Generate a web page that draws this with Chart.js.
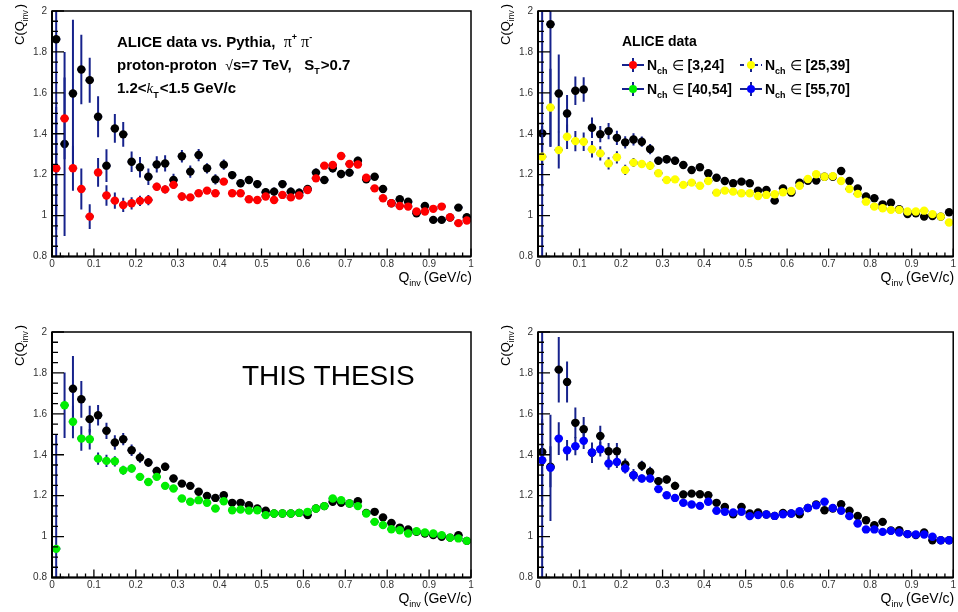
<!DOCTYPE html>
<html><head><meta charset="utf-8">
<script src="https://cdn.jsdelivr.net/npm/chart.js@4.4.1/dist/chart.umd.min.js"></script>
<style>
html,body{margin:0;padding:0;background:#fff;width:958px;height:612px;overflow:hidden}
.pane{position:absolute;width:479px;height:306px}
canvas{display:block}
</style></head><body>
<div class="pane" style="left:0;top:0"><canvas id="c1" width="479" height="306"></canvas></div>
<div class="pane" style="left:479px;top:0"><canvas id="c2" width="479" height="306"></canvas></div>
<div class="pane" style="left:0;top:321px"><canvas id="c3" width="479" height="306"></canvas></div>
<div class="pane" style="left:479px;top:321px"><canvas id="c4" width="479" height="306"></canvas></div>
<script>
// ---------- data ----------
const qInv = [0.01,0.03,0.05,0.07,0.09,0.11,0.13,0.15,0.17,0.19,0.21,0.23,0.25,0.27,0.29,0.31,0.33,0.35,0.37,0.39,0.41,0.43,0.45,0.47,0.49,0.51,0.53,0.55,0.57,0.59,0.61,0.63,0.65,0.67,0.69,0.71,0.73,0.75,0.77,0.79,0.81,0.83,0.85,0.87,0.89,0.91,0.93,0.95,0.97,0.99];
const binHalfWidth = 0.01;
const xTickValues = [0,0.1,0.2,0.3,0.4,0.5,0.6,0.7,0.8,0.9,1];
const yTickValues = [0.8,1,1.2,1.4,1.6,1.8,2];

// Nch in [3,24]
const pythia3to24 = [1.862,1.35,1.597,1.714,1.662,1.483,1.244,1.426,1.397,1.263,1.236,1.19,1.25,1.255,1.174,1.29,1.215,1.296,1.231,1.177,1.249,1.198,1.158,1.174,1.154,1.114,1.117,1.154,1.117,1.112,1.13,1.21,1.174,1.231,1.203,1.21,1.268,1.177,1.19,1.13,1.06,1.08,1.068,1.011,1.047,0.979,0.979,0.99,1.039,0.992];
const pythia3to24Err = [1.2,0.45,0.36,0.17,0.11,0.1,0.08,0.07,0.06,0.05,0.05,0.04,0.04,0.04,0.03,0.03,0.03,0.03,0.025,0.025,0.025,0.02,0.02,0.02,0.02,0.02,0.02,0.02,0.02,0.02,0.02,0.02,0.02,0.02,0.02,0.02,0.02,0.015,0.015,0.015,0.015,0.015,0.015,0.015,0.015,0.015,0.015,0.015,0.015,0.015];
const data3to24 = [1.231,1.475,1.231,1.13,0.995,1.211,1.098,1.073,1.052,1.06,1.072,1.076,1.141,1.128,1.15,1.093,1.089,1.109,1.122,1.109,1.166,1.109,1.109,1.08,1.076,1.093,1.076,1.101,1.089,1.098,1.125,1.182,1.244,1.247,1.291,1.252,1.25,1.185,1.133,1.085,1.06,1.047,1.044,1.02,1.02,1.033,1.044,0.992,0.963,0.976];
const data3to24Err = [0.3,0.2,0.11,0.1,0.06,0.07,0.05,0.04,0.035,0.03,0.025,0.025,0.02,0.02,0.02,0.02,0.015,0.015,0.015,0.015,0.012,0.012,0.012,0.012,0.012,0.012,0.012,0.012,0.012,0.012,0.012,0.012,0.012,0.012,0.012,0.012,0.012,0.012,0.012,0.012,0.012,0.012,0.012,0.012,0.012,0.012,0.012,0.012,0.012,0.012];

// Nch in [25,39]
const pythia25to39 = [1.402,1.935,1.597,1.499,1.61,1.616,1.429,1.398,1.413,1.38,1.358,1.372,1.361,1.325,1.268,1.275,1.268,1.247,1.223,1.236,1.207,1.185,1.169,1.158,1.166,1.158,1.122,1.125,1.073,1.133,1.112,1.161,1.17,1.171,1.19,1.19,1.218,1.169,1.133,1.093,1.085,1.055,1.063,1.031,1.008,1.011,0.995,0.998,0.995,1.016];
const pythia25to39Err = [1.2,0.6,0.19,0.09,0.07,0.06,0.05,0.04,0.04,0.035,0.03,0.03,0.025,0.025,0.02,0.02,0.02,0.018,0.018,0.016,0.015,0.015,0.015,0.015,0.015,0.015,0.015,0.015,0.015,0.015,0.015,0.015,0.015,0.015,0.015,0.015,0.015,0.012,0.012,0.012,0.012,0.012,0.012,0.012,0.012,0.012,0.012,0.012,0.012,0.012];
const data25to39 = [1.288,1.528,1.32,1.385,1.364,1.361,1.324,1.304,1.255,1.285,1.223,1.259,1.252,1.244,1.207,1.174,1.177,1.15,1.161,1.146,1.169,1.112,1.122,1.117,1.109,1.109,1.096,1.101,1.104,1.114,1.12,1.146,1.179,1.202,1.19,1.193,1.169,1.13,1.106,1.068,1.044,1.036,1.028,1.028,1.02,1.02,1.024,1.007,0.995,0.966];
const data25to39Err = [0.15,0.19,0.09,0.06,0.05,0.045,0.04,0.035,0.03,0.03,0.025,0.022,0.02,0.02,0.018,0.016,0.015,0.015,0.012,0.012,0.012,0.012,0.012,0.012,0.01,0.01,0.01,0.01,0.01,0.01,0.01,0.01,0.01,0.01,0.01,0.01,0.01,0.01,0.01,0.01,0.01,0.01,0.01,0.01,0.01,0.01,0.01,0.01,0.01,0.01];

// Nch in [40,54]
const pythia40to54 = [null,null,1.723,1.671,1.574,1.593,1.517,1.46,1.476,1.422,1.386,1.362,1.321,1.341,1.284,1.259,1.248,1.219,1.199,1.189,1.202,1.165,1.165,1.153,1.137,1.126,1.113,1.113,1.113,1.116,1.105,1.137,1.149,1.17,1.165,1.162,1.173,1.116,1.121,1.093,1.067,1.044,1.035,1.023,1.015,1.007,0.999,0.995,1.007,0.979];
const pythia40to54Err = [0,0,0.16,0.09,0.065,0.05,0.04,0.035,0.03,0.028,0.025,0.022,0.02,0.02,0.018,0.016,0.015,0.015,0.012,0.012,0.012,0.012,0.012,0.012,0.01,0.01,0.01,0.01,0.01,0.01,0.01,0.01,0.01,0.01,0.01,0.01,0.01,0.01,0.01,0.01,0.01,0.01,0.01,0.01,0.01,0.01,0.01,0.01,0.01,0.01];
const data40to54 = [0.94,1.642,1.561,1.479,1.476,1.381,1.37,1.368,1.324,1.333,1.292,1.267,1.292,1.248,1.235,1.186,1.17,1.178,1.165,1.137,1.173,1.129,1.132,1.127,1.129,1.105,1.113,1.113,1.113,1.116,1.121,1.137,1.149,1.186,1.178,1.162,1.149,1.113,1.072,1.056,1.036,1.031,1.015,1.026,1.02,1.015,1.007,0.995,0.991,0.979];
const data40to54Err = [0.56,0.16,0.08,0.06,0.05,0.03,0.03,0.025,0.022,0.02,0.018,0.016,0.015,0.012,0.012,0.01,0.01,0.01,0.01,0.01,0.01,0.01,0.01,0.01,0.008,0.008,0.008,0.008,0.008,0.008,0.008,0.008,0.008,0.008,0.008,0.008,0.008,0.008,0.008,0.008,0.008,0.008,0.008,0.008,0.008,0.008,0.008,0.008,0.008,0.008];

// Nch in [55,70]
const pythia55to70 = [1.414,1.341,1.816,1.756,1.556,1.525,1.41,1.492,1.417,1.417,1.352,1.3,1.346,1.316,1.271,1.279,1.248,1.206,1.21,1.207,1.202,1.165,1.145,1.109,1.145,1.113,1.118,1.108,1.101,1.116,1.113,1.109,1.14,1.157,1.129,1.137,1.158,1.126,1.101,1.08,1.056,1.072,1.03,1.031,1.012,1.007,1.02,0.982,0.982,0.982];
const pythia55to70Err = [1.2,0.1,0.16,0.1,0.075,0.06,0.05,0.05,0.04,0.04,0.03,0.03,0.025,0.025,0.02,0.02,0.02,0.018,0.016,0.015,0.015,0.015,0.012,0.012,0.012,0.012,0.012,0.012,0.012,0.012,0.012,0.012,0.012,0.012,0.012,0.012,0.012,0.012,0.012,0.012,0.012,0.012,0.012,0.012,0.012,0.012,0.012,0.012,0.012,0.012];
const data55to70 = [1.373,1.336,1.479,1.422,1.442,1.468,1.411,1.427,1.357,1.365,1.333,1.3,1.284,1.284,1.232,1.202,1.189,1.165,1.157,1.15,1.17,1.126,1.121,1.118,1.121,1.1,1.105,1.108,1.101,1.109,1.113,1.124,1.14,1.153,1.17,1.14,1.126,1.1,1.064,1.035,1.035,1.023,1.028,1.02,1.012,1.01,1.01,0.999,0.982,0.982];
const data55to70Err = [0.2,0.26,0.08,0.05,0.045,0.04,0.04,0.035,0.03,0.03,0.025,0.022,0.02,0.018,0.016,0.015,0.014,0.012,0.012,0.012,0.01,0.01,0.01,0.01,0.01,0.01,0.01,0.01,0.01,0.01,0.01,0.01,0.01,0.01,0.01,0.01,0.01,0.01,0.01,0.01,0.01,0.01,0.01,0.01,0.01,0.01,0.01,0.01,0.01,0.01];

const legendLabels = ['[3,24]','[25,39]','[40,54]','[55,70]'];

// ---------- styling ----------
const FONT = '"Liberation Sans", Arial, Helvetica, sans-serif';
const SERIF = '"Liberation Serif", "Times New Roman", serif';
const ERR_COLOR = '#16228c';
const C_RED = '#ff0000', C_YEL = '#ffff00', C_GRN = '#00ee00', C_BLU = '#0000ff';
const extraText = {};

function pts(vals){ return qInv.map((q,i)=>({x:q, y:vals[i]})); }

function drawRich(ctx, x, y, segs){
  let cx = x;
  for (const s of segs){
    ctx.font = s.f;
    ctx.fillStyle = s.c || '#000';
    ctx.fillText(s.t, cx, y + (s.dy||0));
    cx += ctx.measureText(s.t).width + (s.gap||0);
  }
  return cx;
}
function richWidth(ctx, segs){
  let w=0; for (const s of segs){ ctx.font=s.f; w += ctx.measureText(s.t).width + (s.gap||0);} return w;
}

function legendSymbol(ctx, cx, cy, color, dashed){
  ctx.save();
  ctx.strokeStyle = ERR_COLOR; ctx.lineWidth = 2;
  if (dashed) ctx.setLineDash([4,3]);
  ctx.beginPath(); ctx.moveTo(cx-11, cy); ctx.lineTo(cx+11, cy); ctx.stroke();
  ctx.setLineDash([]);
  ctx.beginPath(); ctx.moveTo(cx, cy-7); ctx.lineTo(cx, cy+7); ctx.stroke();
  ctx.fillStyle = color;
  ctx.beginPath(); ctx.arc(cx, cy, 4, 0, Math.PI*2); ctx.fill();
  ctx.restore();
}

const rootPlugin = {
  id: 'rootStyle',
  beforeDatasetDraw(chart, args){
    const ds = chart.data.datasets[args.index];
    if (!ds.errY) return;
    const ctx = chart.ctx, xs = chart.scales.x, ys = chart.scales.y, a = chart.chartArea;
    ctx.save();
    ctx.beginPath(); ctx.rect(a.left, a.top, a.right-a.left, a.bottom-a.top); ctx.clip();
    ctx.strokeStyle = ERR_COLOR; ctx.lineWidth = 2;
    ds.data.forEach((p,i)=>{
      if (p.y === null || p.y === undefined) return;
      const px = xs.getPixelForValue(p.x), py = ys.getPixelForValue(p.y);
      const x0 = xs.getPixelForValue(p.x - binHalfWidth), x1 = xs.getPixelForValue(p.x + binHalfWidth);
      const e = ds.errY[i] || 0;
      const y0 = ys.getPixelForValue(p.y + e), y1 = ys.getPixelForValue(p.y - e);
      ctx.beginPath();
      ctx.moveTo(x0, py); ctx.lineTo(x1, py);
      ctx.moveTo(px, y0); ctx.lineTo(px, y1);
      ctx.stroke();
    });
    ctx.restore();
  },
  afterDraw(chart){
    const ctx = chart.ctx, xs = chart.scales.x, ys = chart.scales.y, a = chart.chartArea;
    ctx.save();
    ctx.strokeStyle = '#000';
    ctx.lineWidth = 1.3;
    ctx.beginPath();
    for (let k=0;k<=50;k++){
      const px = xs.getPixelForValue(k/50);
      const len = (k%5===0) ? 8 : 4;
      ctx.moveTo(px, a.bottom); ctx.lineTo(px, a.bottom-len);
    }
    for (let k=0;k<=24;k++){
      const py = ys.getPixelForValue(0.8 + k*0.05);
      const len = (k%4===0) ? 12 : 6;
      ctx.moveTo(a.left, py); ctx.lineTo(a.left+len, py);
    }
    ctx.stroke();
    ctx.lineWidth = 1.5;
    ctx.strokeRect(a.left, a.top, a.right-a.left, a.bottom-a.top);
    ctx.lineWidth = 2;
    ctx.beginPath();
    ctx.moveTo(a.left, a.top); ctx.lineTo(a.left, a.bottom); ctx.lineTo(a.right, a.bottom);
    ctx.stroke();
    ctx.restore();

    ctx.save();
    ctx.textBaseline = 'alphabetic';
    const xt = [{t:'Q', f:'14px '+FONT},{t:'inv', f:'9px '+FONT, dy:4, gap:3},{t:'(GeV/c)', f:'14px '+FONT}];
    const w = richWidth(ctx, xt);
    drawRich(ctx, a.right + 1 - w, 281.5, xt);
    ctx.translate(a.left - 28, 45);
    ctx.rotate(-Math.PI/2);
    drawRich(ctx, 0, 0, [{t:'C(Q', f:'13px '+FONT},{t:'inv', f:'8.5px '+FONT, dy:3.5, gap:2},{t:')', f:'13px '+FONT}]);
    ctx.restore();

    const extra = extraText[chart.canvas.id];
    if (extra){ ctx.save(); ctx.textBaseline = 'alphabetic'; extra(ctx); ctx.restore(); }
  }
};

const B15 = 'bold 15px '+FONT;
extraText.c1 = function(ctx){
  drawRich(ctx, 117, 46.5, [
    {t:'ALICE data vs. Pythia,  ', f:B15},
    {t:'\u03c0', f:'16px '+SERIF},
    {t:'+', f:'bold 9px '+FONT, dy:-7, gap:4},
    {t:'\u03c0', f:'16px '+SERIF},
    {t:'-', f:'bold 9px '+FONT, dy:-7}
  ]);
  drawRich(ctx, 117, 69.5, [
    {t:'proton-proton  ', f:B15},
    {t:'\u221a', f:'14px '+FONT},
    {t:'s=7 TeV,   S', f:B15},
    {t:'T', f:'bold 9px '+FONT, dy:4.5, gap:1},
    {t:'>0.7', f:B15}
  ]);
  drawRich(ctx, 117, 93, [
    {t:'1.2<', f:B15},
    {t:'k', f:'italic 15px '+SERIF},
    {t:'T', f:'bold 9px '+FONT, dy:4.5, gap:1},
    {t:'<1.5 GeV/c', f:B15}
  ]);
};
extraText.c2 = function(ctx){
  drawRich(ctx, 143, 46, [{t:'ALICE data', f:'bold 14px '+FONT}]);
  const cols = [154, 272], rows = [65, 89];
  const colors = [C_RED, C_YEL, C_GRN, C_BLU];
  for (let i=0;i<4;i++){
    const cx = cols[i%2], cy = rows[Math.floor(i/2)];
    legendSymbol(ctx, cx, cy, colors[i], i===1);
    drawRich(ctx, cx+14, cy+5, [
      {t:'N', f:'bold 14px '+FONT},
      {t:'ch', f:'bold 9px '+FONT, dy:3.5, gap:4},
      {t:'\u2208 ', f:'14px '+FONT},
      {t:legendLabels[i], f:'bold 14px '+FONT}
    ]);
  }
};
extraText.c3 = function(ctx){
  drawRich(ctx, 242, 64, [{t:'THIS THESIS', f:'28px '+FONT}]);
};

function makeChart(id, geom, pythia, pythiaErr, data, dataErr, color){
  const W = 479, H = 306;
  return new Chart(document.getElementById(id), {
    type: 'scatter',
    data: { datasets: [
      { label: 'ALICE data', data: pts(data), errY: dataErr, pointRadius: 4.2, pointBackgroundColor: color,
        pointBorderColor: color, pointBorderWidth: 0, pointHoverRadius: 4.2, showLine: false },
      { label: 'Pythia', data: pts(pythia), errY: pythiaErr, pointRadius: 4.2, pointBackgroundColor: '#000',
        pointBorderColor: '#000', pointBorderWidth: 0, pointHoverRadius: 4.2, showLine: false }
    ]},
    options: {
      responsive: false, animation: false, events: [],
      layout: { autoPadding: false, padding: { left: 0, top: geom.top, right: W - geom.right, bottom: 0 } },
      plugins: { legend: { display: false }, tooltip: { enabled: false } },
      scales: {
        x: { type: 'linear', min: 0, max: 1,
          afterFit: s => { s.height = H - geom.bottom; },
          afterBuildTicks: s => { s.ticks = xTickValues.map(v => ({ value: v })); },
          grid: { display: false, drawTicks: false }, border: { display: false },
          ticks: { autoSkip: false, maxRotation: 0, padding: 2, color: '#333', font: { family: FONT, size: 10 },
                   callback: v => String(v) } },
        y: { type: 'linear', min: 0.8, max: 2,
          afterFit: s => { s.width = geom.left; },
          afterBuildTicks: s => { s.ticks = yTickValues.map(v => ({ value: v })); },
          grid: { display: false, drawTicks: false }, border: { display: false },
          ticks: { autoSkip: false, padding: 5, color: '#333', font: { family: FONT, size: 10 },
                   callback: v => String(v) } }
      }
    },
    plugins: [rootPlugin]
  });
}

const leftGeom = { left: 52, right: 471, top: 10, bottom: 256.5 };
const rightGeom = { left: 59, right: 474.5, top: 10, bottom: 256.5 };
makeChart('c1', leftGeom, pythia3to24, pythia3to24Err, data3to24, data3to24Err, C_RED);
makeChart('c2', rightGeom, pythia25to39, pythia25to39Err, data25to39, data25to39Err, C_YEL);
makeChart('c3', leftGeom, pythia40to54, pythia40to54Err, data40to54, data40to54Err, C_GRN);
makeChart('c4', rightGeom, pythia55to70, pythia55to70Err, data55to70, data55to70Err, C_BLU);
</script>
</body></html>
